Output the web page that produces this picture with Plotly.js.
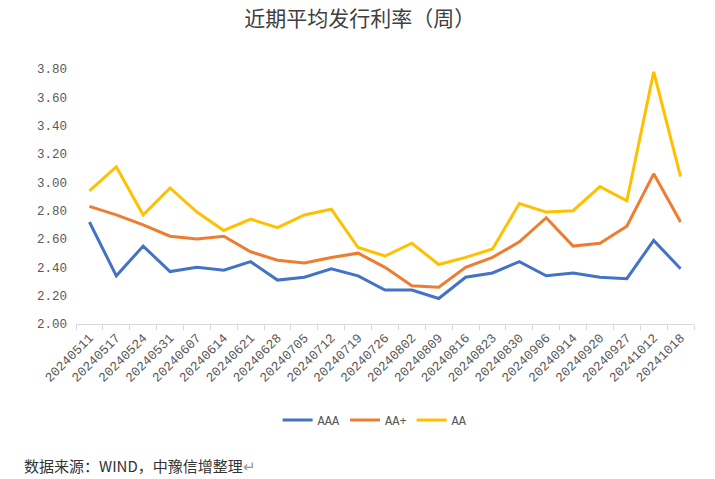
<!DOCTYPE html>
<html>
<head>
<meta charset="utf-8">
<script src="https://cdn.plot.ly/plotly-3.0.1.min.js"></script>
<style>html,body{margin:0;padding:0;background:#fff;}#chart{width:715px;height:479px;}</style>
</head>
<body>
<div id="chart"></div>
<script>
const categories = ["20240511","20240517","20240524","20240531","20240607","20240614","20240621","20240628","20240705","20240712","20240719","20240726","20240802","20240809","20240816","20240823","20240830","20240906","20240914","20240920","20240927","20241012","20241018"];
const aaa = [2.72,2.34,2.55,2.37,2.40,2.38,2.44,2.31,2.33,2.39,2.34,2.24,2.24,2.18,2.33,2.36,2.44,2.34,2.36,2.33,2.32,2.59,2.39];
const aaPlus = [2.83,2.77,2.70,2.62,2.60,2.62,2.51,2.45,2.43,2.47,2.50,2.40,2.27,2.26,2.40,2.47,2.58,2.75,2.55,2.57,2.69,3.06,2.72];
const aa = [2.94,3.11,2.77,2.96,2.79,2.66,2.74,2.68,2.77,2.81,2.54,2.48,2.57,2.42,2.47,2.53,2.85,2.79,2.80,2.97,2.87,3.78,3.04];
const yTicks = [2.0,2.2,2.4,2.6,2.8,3.0,3.2,3.4,3.6,3.8];
const seriesNames = ["AAA","AA+","AA"];
const titleText = "近期平均发行利率（周）";
const sourceText = "数据来源：WIND，中豫信增整理";

const colors = ["#4472C4","#ED7D31","#FFC000"];
const series = [aaa, aaPlus, aa];
const traces = series.map((s,i)=>({
  type:"scatter", mode:"lines", x:categories, y:s, name:seriesNames[i],
  line:{color:colors[i], width:3}
}));

const numFont = "Liberation Mono, DejaVu Sans Mono, monospace";
const layout = {
  width:715, height:479,
  margin:{l:76, r:21, t:69, b:155},
  paper_bgcolor:"#fff", plot_bgcolor:"#fff",
  showlegend:true,
  title:{text:titleText, x:0.503, xref:"container", y:0.962, yref:"container", yanchor:"middle", xanchor:"center",
    font:{family:"Noto Sans CJK SC, sans-serif", size:21, color:"#404040"}},
  xaxis:{type:"category", tickangle:-45, tickson:"boundaries", ticks:"outside", ticklen:5, tickcolor:"#d9d9d9",
    showline:true, linecolor:"#d9d9d9", linewidth:1, showgrid:false, zeroline:false,
    tickfont:{family:numFont, size:13, color:"#595959"}, range:[-0.5,22.5]},
  yaxis:{range:[2.0,3.8], tickvals:yTicks, ticktext:yTicks.map(v=>v.toFixed(2)), showgrid:false, zeroline:false,
    showline:false, ticks:"", tickfont:{family:numFont, size:12.5, color:"#595959"}, ticklabelstandoff:8},
  legend:{orientation:"h", x:0.484, xanchor:"center", y:-0.376, yanchor:"middle",
    font:{family:numFont, size:12, color:"#595959"}, tracegroupgap:0},
  annotations:[{text:sourceText+'<span style="color:#999">↵</span>', xref:"paper", yref:"paper", x:-0.088, y:-0.553,
    xanchor:"left", yanchor:"middle", showarrow:false,
    font:{family:"Noto Sans CJK SC, sans-serif", size:15, color:"#333"}}]
};
Plotly.newPlot("chart", traces, layout, {displayModeBar:false, staticPlot:true});
</script>
</body>
</html>
